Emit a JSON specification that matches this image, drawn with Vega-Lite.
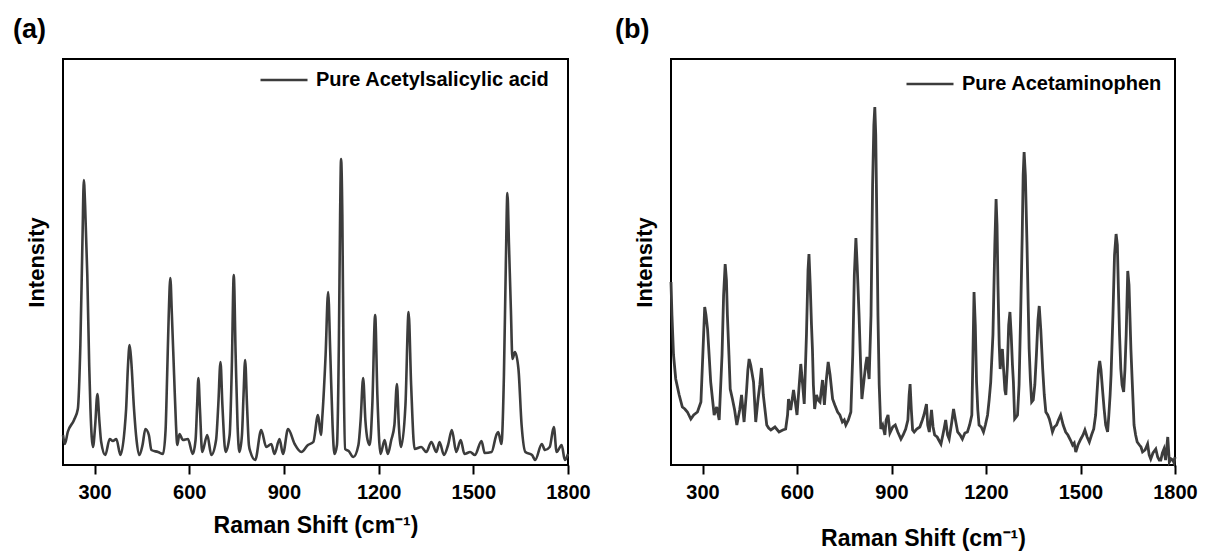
{
  "$schema": "https://vega.github.io/schema/vega-lite/v6.json",
  "background": "white",
  "padding": {"left": 12, "top": 15, "right": 0, "bottom": 0},
  "bounds": "flush",
  "spacing": 103,
  "config": {
    "font": "Liberation Sans",
    "view": {"stroke": "#000000", "strokeWidth": 2},
    "axis": {"grid": false, "domain": false, "labelFont": "Liberation Sans", "titleFont": "Liberation Sans", "titleFontWeight": "bold", "labelFontWeight": "bold", "labelColor": "#000000", "titleColor": "#000000", "tickColor": "#000000", "tickWidth": 2},
    "legend": {"labelFont": "Liberation Sans", "labelFontWeight": "bold", "labelColor": "#000000", "labelLimit": 500},
    "title": {"font": "Liberation Sans", "fontWeight": "bold", "color": "#000000"}
  },
  "resolve": {"scale": {"color": "independent"}, "legend": {"color": "independent"}},
  "datasets": {
    "a": [
      {"w":200,"i":30},{"w":206,"i":21},{"w":215,"i":33},{"w":235,"i":45},{"w":247,"i":56},{"w":255,"i":120},{"w":262,"i":230},{"w":266,"i":285},{"w":270,"i":260},{"w":277,"i":190},{"w":283,"i":100},{"w":287,"i":56},{"w":295,"i":18},{"w":302,"i":40},{"w":309,"i":71},{"w":315,"i":45},{"w":321,"i":23},{"w":334,"i":10},{"w":348,"i":26},{"w":358,"i":24},{"w":369,"i":26},{"w":382,"i":10},{"w":395,"i":35},{"w":400,"i":56},{"w":406,"i":100},{"w":411,"i":120},{"w":416,"i":105},{"w":425,"i":56},{"w":433,"i":25},{"w":442,"i":10},{"w":452,"i":20},{"w":461,"i":36},{"w":472,"i":30},{"w":480,"i":15},{"w":501,"i":13},{"w":517,"i":11},{"w":525,"i":35},{"w":530,"i":90},{"w":535,"i":150},{"w":540,"i":187},{"w":545,"i":150},{"w":552,"i":90},{"w":558,"i":40},{"w":562,"i":20},{"w":569,"i":31},{"w":580,"i":25},{"w":596,"i":26},{"w":611,"i":11},{"w":620,"i":25},{"w":625,"i":60},{"w":629,"i":87},{"w":634,"i":55},{"w":641,"i":13},{"w":657,"i":30},{"w":670,"i":10},{"w":685,"i":25},{"w":692,"i":60},{"w":699,"i":103},{"w":705,"i":60},{"w":715,"i":13},{"w":728,"i":30},{"w":735,"i":100},{"w":741,"i":190},{"w":747,"i":110},{"w":753,"i":40},{"w":759,"i":13},{"w":767,"i":30},{"w":772,"i":70},{"w":777,"i":105},{"w":783,"i":60},{"w":789,"i":20},{"w":794,"i":13},{"w":809,"i":5},{"w":828,"i":35},{"w":844,"i":18},{"w":860,"i":21},{"w":870,"i":11},{"w":886,"i":26},{"w":897,"i":11},{"w":913,"i":36},{"w":934,"i":21},{"w":955,"i":13},{"w":976,"i":20},{"w":993,"i":23},{"w":1008,"i":50},{"w":1017,"i":30},{"w":1022,"i":50},{"w":1032,"i":110},{"w":1040,"i":173},{"w":1047,"i":110},{"w":1054,"i":40},{"w":1060,"i":11},{"w":1068,"i":20},{"w":1074,"i":120},{"w":1078,"i":250},{"w":1081,"i":306},{"w":1085,"i":250},{"w":1089,"i":100},{"w":1094,"i":16},{"w":1105,"i":14},{"w":1120,"i":8},{"w":1136,"i":20},{"w":1143,"i":45},{"w":1151,"i":87},{"w":1158,"i":45},{"w":1165,"i":25},{"w":1172,"i":20},{"w":1180,"i":60},{"w":1189,"i":150},{"w":1196,"i":70},{"w":1206,"i":11},{"w":1219,"i":25},{"w":1229,"i":11},{"w":1240,"i":25},{"w":1250,"i":40},{"w":1258,"i":81},{"w":1264,"i":40},{"w":1271,"i":18},{"w":1285,"i":60},{"w":1295,"i":153},{"w":1303,"i":80},{"w":1314,"i":16},{"w":1335,"i":18},{"w":1351,"i":13},{"w":1367,"i":23},{"w":1383,"i":13},{"w":1393,"i":23},{"w":1407,"i":10},{"w":1420,"i":20},{"w":1432,"i":35},{"w":1446,"i":13},{"w":1460,"i":25},{"w":1472,"i":11},{"w":1490,"i":13},{"w":1505,"i":10},{"w":1526,"i":24},{"w":1536,"i":12},{"w":1558,"i":13},{"w":1573,"i":30},{"w":1579,"i":33},{"w":1589,"i":21},{"w":1597,"i":90},{"w":1603,"i":200},{"w":1608,"i":272},{"w":1613,"i":220},{"w":1619,"i":156},{"w":1624,"i":106},{"w":1632,"i":113},{"w":1643,"i":96},{"w":1653,"i":40},{"w":1665,"i":13},{"w":1686,"i":10},{"w":1696,"i":5},{"w":1717,"i":21},{"w":1727,"i":15},{"w":1742,"i":18},{"w":1755,"i":38},{"w":1764,"i":13},{"w":1780,"i":20},{"w":1790,"i":5},{"w":1800,"i":11}
    ],
    "b": [
      {"w":200,"i":183},{"w":203,"i":150},{"w":208,"i":110},{"w":215,"i":86},{"w":226,"i":70},{"w":236,"i":58},{"w":244,"i":56},{"w":252,"i":53},{"w":263,"i":46},{"w":272,"i":50},{"w":284,"i":53},{"w":295,"i":63},{"w":301,"i":110},{"w":307,"i":158},{"w":311,"i":150},{"w":316,"i":136},{"w":321,"i":110},{"w":326,"i":83},{"w":337,"i":50},{"w":345,"i":58},{"w":353,"i":45},{"w":362,"i":110},{"w":367,"i":170},{"w":372,"i":201},{"w":376,"i":185},{"w":379,"i":150},{"w":384,"i":110},{"w":388,"i":76},{"w":395,"i":66},{"w":402,"i":55},{"w":409,"i":40},{"w":418,"i":55},{"w":424,"i":70},{"w":432,"i":43},{"w":440,"i":75},{"w":444,"i":95},{"w":448,"i":106},{"w":453,"i":100},{"w":462,"i":83},{"w":469,"i":43},{"w":476,"i":65},{"w":482,"i":80},{"w":487,"i":97},{"w":490,"i":85},{"w":493,"i":70},{"w":504,"i":40},{"w":510,"i":37},{"w":517,"i":35},{"w":530,"i":38},{"w":543,"i":33},{"w":555,"i":35},{"w":564,"i":36},{"w":570,"i":50},{"w":573,"i":66},{"w":580,"i":55},{"w":589,"i":75},{"w":595,"i":62},{"w":600,"i":50},{"w":607,"i":80},{"w":612,"i":101},{"w":618,"i":80},{"w":623,"i":61},{"w":630,"i":130},{"w":635,"i":195},{"w":638,"i":211},{"w":642,"i":180},{"w":646,"i":140},{"w":649,"i":116},{"w":652,"i":80},{"w":656,"i":56},{"w":662,"i":70},{"w":667,"i":65},{"w":673,"i":63},{"w":681,"i":85},{"w":687,"i":60},{"w":693,"i":85},{"w":699,"i":103},{"w":705,"i":90},{"w":713,"i":66},{"w":720,"i":60},{"w":729,"i":53},{"w":736,"i":50},{"w":744,"i":43},{"w":750,"i":45},{"w":755,"i":40},{"w":763,"i":45},{"w":771,"i":53},{"w":777,"i":110},{"w":782,"i":190},{"w":787,"i":227},{"w":791,"i":200},{"w":797,"i":150},{"w":802,"i":100},{"w":806,"i":66},{"w":813,"i":86},{"w":818,"i":100},{"w":822,"i":108},{"w":826,"i":95},{"w":829,"i":86},{"w":835,"i":150},{"w":840,"i":280},{"w":844,"i":340},{"w":847,"i":358},{"w":850,"i":330},{"w":854,"i":230},{"w":857,"i":150},{"w":861,"i":80},{"w":866,"i":36},{"w":872,"i":40},{"w":879,"i":30},{"w":883,"i":45},{"w":889,"i":50},{"w":895,"i":32},{"w":904,"i":38},{"w":912,"i":40},{"w":920,"i":33},{"w":930,"i":26},{"w":937,"i":30},{"w":945,"i":36},{"w":952,"i":45},{"w":956,"i":70},{"w":959,"i":81},{"w":963,"i":55},{"w":967,"i":35},{"w":972,"i":33},{"w":980,"i":36},{"w":990,"i":38},{"w":998,"i":45},{"w":1003,"i":50},{"w":1011,"i":61},{"w":1015,"i":40},{"w":1020,"i":33},{"w":1027,"i":55},{"w":1032,"i":38},{"w":1037,"i":30},{"w":1045,"i":28},{"w":1050,"i":25},{"w":1057,"i":21},{"w":1063,"i":30},{"w":1068,"i":38},{"w":1072,"i":45},{"w":1078,"i":30},{"w":1083,"i":26},{"w":1090,"i":40},{"w":1097,"i":56},{"w":1103,"i":45},{"w":1110,"i":33},{"w":1118,"i":30},{"w":1125,"i":26},{"w":1133,"i":32},{"w":1141,"i":33},{"w":1148,"i":40},{"w":1155,"i":50},{"w":1158,"i":100},{"w":1162,"i":173},{"w":1166,"i":140},{"w":1170,"i":83},{"w":1174,"i":55},{"w":1178,"i":40},{"w":1185,"i":38},{"w":1192,"i":33},{"w":1198,"i":40},{"w":1205,"i":50},{"w":1210,"i":65},{"w":1215,"i":83},{"w":1222,"i":130},{"w":1228,"i":220},{"w":1232,"i":266},{"w":1235,"i":240},{"w":1238,"i":180},{"w":1242,"i":120},{"w":1245,"i":96},{"w":1249,"i":110},{"w":1252,"i":116},{"w":1256,"i":95},{"w":1260,"i":75},{"w":1263,"i":70},{"w":1268,"i":100},{"w":1272,"i":140},{"w":1276,"i":153},{"w":1280,"i":130},{"w":1284,"i":100},{"w":1287,"i":83},{"w":1291,"i":46},{"w":1296,"i":48},{"w":1300,"i":50},{"w":1305,"i":80},{"w":1310,"i":150},{"w":1315,"i":230},{"w":1318,"i":290},{"w":1321,"i":313},{"w":1325,"i":290},{"w":1330,"i":223},{"w":1334,"i":160},{"w":1337,"i":116},{"w":1341,"i":85},{"w":1345,"i":63},{"w":1350,"i":65},{"w":1355,"i":80},{"w":1360,"i":110},{"w":1365,"i":145},{"w":1369,"i":159},{"w":1374,"i":135},{"w":1380,"i":96},{"w":1385,"i":70},{"w":1390,"i":53},{"w":1396,"i":50},{"w":1401,"i":46},{"w":1406,"i":40},{"w":1411,"i":33},{"w":1417,"i":38},{"w":1424,"i":40},{"w":1430,"i":45},{"w":1437,"i":50},{"w":1445,"i":40},{"w":1453,"i":33},{"w":1460,"i":30},{"w":1468,"i":25},{"w":1475,"i":20},{"w":1480,"i":22},{"w":1485,"i":13},{"w":1492,"i":20},{"w":1501,"i":26},{"w":1508,"i":30},{"w":1514,"i":35},{"w":1521,"i":28},{"w":1528,"i":23},{"w":1535,"i":30},{"w":1542,"i":36},{"w":1548,"i":50},{"w":1553,"i":75},{"w":1557,"i":95},{"w":1561,"i":104},{"w":1565,"i":95},{"w":1570,"i":75},{"w":1575,"i":56},{"w":1580,"i":40},{"w":1586,"i":33},{"w":1590,"i":50},{"w":1594,"i":70},{"w":1597,"i":90},{"w":1603,"i":150},{"w":1608,"i":210},{"w":1613,"i":231},{"w":1617,"i":220},{"w":1620,"i":180},{"w":1624,"i":130},{"w":1628,"i":96},{"w":1632,"i":80},{"w":1637,"i":73},{"w":1641,"i":95},{"w":1645,"i":130},{"w":1650,"i":194},{"w":1654,"i":180},{"w":1660,"i":116},{"w":1664,"i":85},{"w":1670,"i":40},{"w":1675,"i":30},{"w":1680,"i":23},{"w":1687,"i":20},{"w":1692,"i":18},{"w":1697,"i":13},{"w":1705,"i":15},{"w":1713,"i":21},{"w":1718,"i":10},{"w":1723,"i":6},{"w":1730,"i":12},{"w":1739,"i":16},{"w":1745,"i":8},{"w":1750,"i":5},{"w":1755,"i":5},{"w":1760,"i":12},{"w":1765,"i":16},{"w":1770,"i":5},{"w":1777,"i":28},{"w":1782,"i":3},{"w":1788,"i":6},{"w":1793,"i":5},{"w":1797,"i":2},{"w":1800,"i":8}
    ]
  },
  "hconcat": [
    {
      "width": 505,
      "height": 406,
      "title": {"text": "(a)", "anchor": "start", "frame": "group", "fontSize": 27, "dx": -50, "offset": 11},
      "data": {"name": "a"},
      "mark": {"type": "line", "interpolate": "monotone", "strokeWidth": 2.6},
      "encoding": {
        "x": {"field": "w", "type": "quantitative", "scale": {"domain": [200, 1800], "nice": false, "zero": false},
          "axis": {"values": [300, 600, 900, 1200, 1500, 1800], "format": "d", "labelFlush": false, "tickSize": 9, "labelPadding": 8, "labelFontSize": 20, "title": "Raman Shift (cm⁻¹)", "titleFontSize": 23, "titlePadding": 12}},
        "y": {"field": "i", "type": "quantitative", "scale": {"domain": [0, 406], "nice": false},
          "axis": {"labels": false, "ticks": false, "title": "Intensity", "titleFontSize": 22, "titlePadding": 15}},
        "color": {"datum": "Pure Acetylsalicylic acid", "type": "nominal", "scale": {"range": ["#3c3c3c"]},
          "legend": {"title": null, "orient": "none", "legendX": 196, "legendY": -4, "padding": 0, "symbolType": "stroke", "symbolSize": 2209, "symbolStrokeWidth": 2.5, "labelFontSize": 20, "labelOffset": 7}}
      }
    },
    {
      "width": 504,
      "height": 406,
      "title": {"text": "(b)", "anchor": "start", "frame": "group", "fontSize": 27, "dx": -56, "offset": 15},
      "data": {"name": "b"},
      "mark": {"type": "line", "interpolate": "linear", "strokeWidth": 2.8},
      "encoding": {
        "x": {"field": "w", "type": "quantitative", "scale": {"domain": [200, 1800], "nice": false, "zero": false},
          "axis": {"values": [300, 600, 900, 1200, 1500, 1800], "format": "d", "labelFlush": false, "tickSize": 9, "labelPadding": 8, "labelFontSize": 20, "title": "Raman Shift (cm⁻¹)", "titleFontSize": 23, "titlePadding": 25}},
        "y": {"field": "i", "type": "quantitative", "scale": {"domain": [0, 406], "nice": false},
          "axis": {"labels": false, "ticks": false, "title": "Intensity", "titleFontSize": 22, "titlePadding": 15}},
        "color": {"datum": "Pure Acetaminophen", "type": "nominal", "scale": {"range": ["#3c3c3c"]},
          "legend": {"title": null, "orient": "none", "legendX": 234, "legendY": 0, "padding": 0, "symbolType": "stroke", "symbolSize": 2209, "symbolStrokeWidth": 2.5, "labelFontSize": 20, "labelOffset": 7}}
      }
    }
  ]
}
